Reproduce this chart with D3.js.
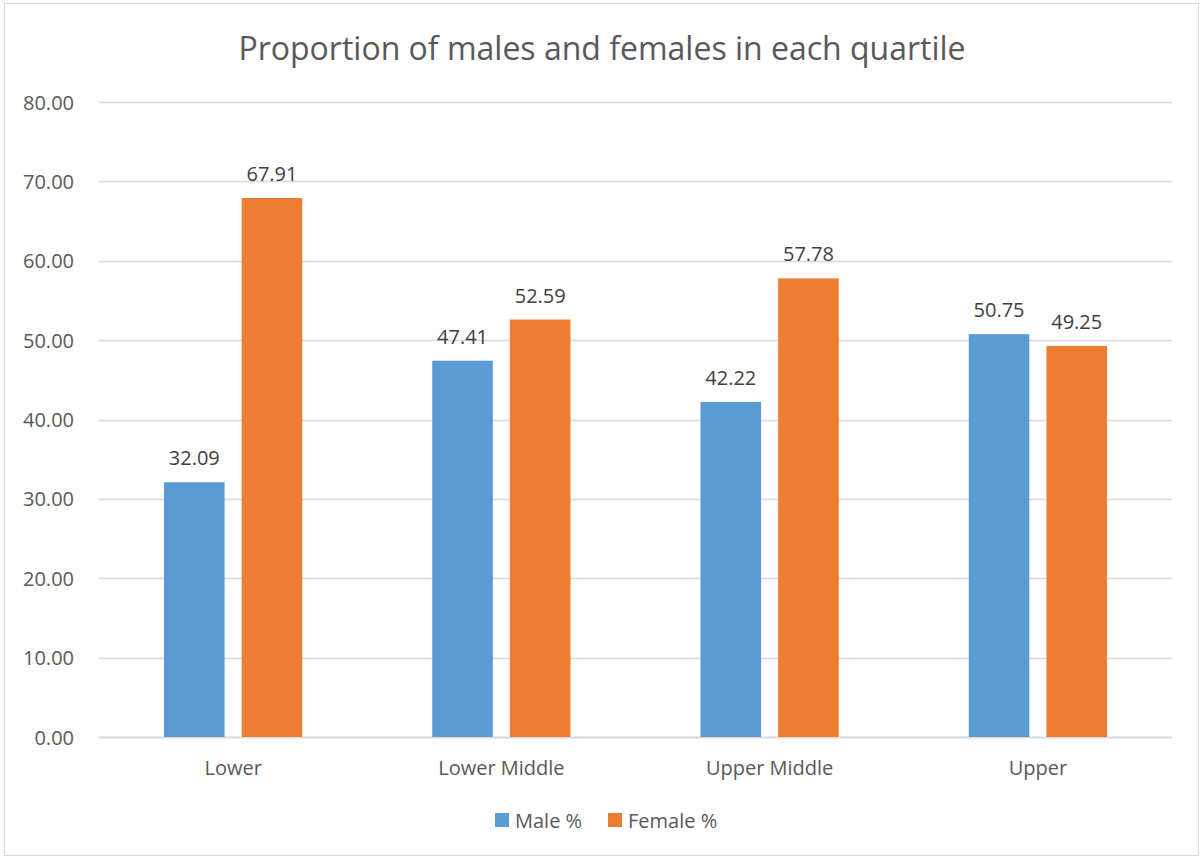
<!DOCTYPE html>
<html>
<head>
<meta charset="utf-8">
<script src="https://cdn.jsdelivr.net/npm/d3@7"></script>
<style>
body { margin: 0; background: #fff; }
text { font-family: "Open Sans", "Noto Sans", sans-serif; fill: #595959; }
</style>
</head>
<body>
<div id="graphArea"></div>
<script>
var quartiles = ["Lower", "Lower Middle", "Upper Middle", "Upper"];
var seriesNames = ["Male %", "Female %"];
var maleValues = [32.09, 47.41, 42.22, 50.75];
var femaleValues = [67.91, 52.59, 57.78, 49.25];
var yTicks = [0, 10, 20, 30, 40, 50, 60, 70, 80];
var colors = ["#5b9bd5", "#ed7d31"];

var W = 1201, H = 858;
var plotLeft = 99, plotRight = 1172, plotTop = 102, plotBottom = 737;

var svg = d3.select("#graphArea")
  .append("svg")
  .attr("width", W)
  .attr("height", H);

svg.append("rect")
  .attr("x", 4.5).attr("y", 3.5)
  .attr("width", W - 7).attr("height", H - 6)
  .attr("fill", "#fff")
  .attr("stroke", "#d9d9d9");

svg.append("text")
  .attr("x", 602).attr("y", 60)
  .attr("text-anchor", "middle")
  .style("font-size", "32px")
  .text("Proportion of males and females in each quartile");

var x = d3.scaleBand().domain(quartiles).range([plotLeft, plotRight]);
var x1 = d3.scaleBand().domain(seriesNames).range([65, x.bandwidth() - 65]).paddingInner(0.22);
var y = d3.scaleLinear().domain([0, 80]).range([plotBottom, plotTop]);

// gridlines
svg.append("g")
  .selectAll("line")
  .data(yTicks)
  .enter()
  .append("line")
    .attr("x1", plotLeft).attr("x2", plotRight)
    .attr("y1", function(d) { return Math.round(y(d)) + 0.5; })
    .attr("y2", function(d) { return Math.round(y(d)) + 0.5; })
    .attr("stroke", "#d9d9d9")
    .attr("stroke-width", function(d) { return d === 0 ? 2 : 1.3; });

var yAxis = svg.append("g")
  .attr("transform", "translate(" + (plotLeft - 22) + ",0)")
  .call(d3.axisLeft(y).tickValues(yTicks).tickSize(0).tickFormat(d3.format(".2f")));
yAxis.select(".domain").remove();
yAxis.selectAll("text").style("font-size", "20px").attr("dy", "0.35em");

var xAxis = svg.append("g")
  .attr("transform", "translate(0," + plotBottom + ")")
  .call(d3.axisBottom(x).tickSize(0));
xAxis.select(".domain").remove();
xAxis.selectAll("text").style("font-size", "20px").attr("y", 38).attr("dy", 0);

var data = quartiles.map(function(q, i) {
  return { quartile: q, values: [maleValues[i], femaleValues[i]] };
});

var groups = svg.selectAll("g.grp")
  .data(data)
  .enter()
  .append("g")
    .attr("class", "grp")
    .attr("transform", function(d) { return "translate(" + x(d.quartile) + ",0)"; });

groups.selectAll("rect")
  .data(function(d) { return d.values.map(function(v, j) { return { name: seriesNames[j], value: v, j: j }; }); })
  .enter()
  .append("rect")
    .attr("x", function(d) { return x1(d.name); })
    .attr("y", function(d) { return y(d.value); })
    .attr("width", x1.bandwidth())
    .attr("height", function(d) { return plotBottom - y(d.value); })
    .attr("fill", function(d) { return colors[d.j]; });

groups.selectAll("text.lbl")
  .data(function(d) { return d.values.map(function(v, j) { return { name: seriesNames[j], value: v, j: j }; }); })
  .enter()
  .append("text")
    .attr("class", "lbl")
    .attr("x", function(d) { return x1(d.name) + x1.bandwidth() / 2; })
    .attr("y", function(d) { return y(d.value) - 17; })
    .attr("text-anchor", "middle")
    .style("font-size", "20px")
    .style("fill", "#404040")
    .text(function(d) { return d.value.toFixed(2); });

// legend
var legendX = [495, 608];
var legend = svg.selectAll("g.leg")
  .data(seriesNames)
  .enter()
  .append("g")
    .attr("class", "leg")
    .attr("transform", function(d, i) { return "translate(" + legendX[i] + ",813)"; });
legend.append("rect")
  .attr("width", 14).attr("height", 14)
  .attr("fill", function(d, i) { return colors[i]; });
legend.append("text")
  .attr("x", 20).attr("y", 15)
  .style("font-size", "20px")
  .text(function(d) { return d; });
</script>
</body>
</html>
